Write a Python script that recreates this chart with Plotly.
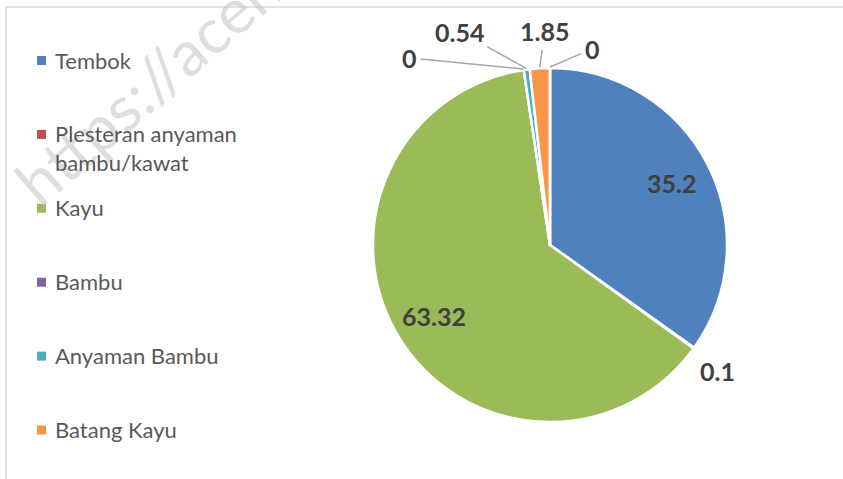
import math
import plotly.graph_objects as go

categories = ["Tembok", "Plesteran anyaman<br>bambu/kawat", "Kayu", "Bambu",
              "Anyaman Bambu", "Batang Kayu", "Lainnya"]
values = [35.2, 0.1, 63.32, 0, 0.54, 1.85, 0]
value_text = ["35.2", "0.1", "63.32", "0", "0.54", "1.85", "0"]
colors = ["#4F81BD", "#C0504D", "#9BBB59", "#8064A2", "#4BACC6", "#F79646", "#2C4D75"]

W, H = 843, 479
FONT = "Lato"
CX, CY, R = 550, 245, 177

# label placement style: (mode, radial factor / pixel offsets)
label_style = [
    ("inside", 0.77), ("plain", (24, 23)), ("inside", 0.77),
    ("arrow", (-114, -11)), ("arrow", (-67, -37)), ("arrow", (5, -36)), ("arrow", (42, -18)),
]

fig = go.Figure()
fig.add_trace(go.Pie(
    labels=categories, values=values,
    textinfo="none",
    sort=False, direction="clockwise", rotation=0,
    marker=dict(colors=colors, line=dict(color="white", width=2.5)),
    domain=dict(x=[(CX - R) / W, (CX + R) / W],
                y=[1 - (CY + R) / H, 1 - (CY - R) / H]),
    automargin=False, showlegend=False, hoverinfo="label+value",
))

shapes = []
annotations = []

# watermark
annotations.append(dict(text="https://aceh.bps.go.id", xref="paper", yref="paper",
                        x=245 / W, y=1 - (-2) / H, xanchor="center", yanchor="middle",
                        textangle=-41, showarrow=False,
                        font=dict(family=FONT, size=63, color="rgba(200,200,200,0.6)")))

# data labels placed from the slice angles
total = sum(values)
cum = 0.0
lab_font = dict(family=FONT, size=25, color="#404040", weight="bold")
for v, txt, (mode, prm) in zip(values, value_text, label_style):
    mid = (cum + v / 2) / total * 2 * math.pi
    cum += v
    s, c = math.sin(mid), math.cos(mid)
    if mode == "inside":
        px, py = CX + prm * R * s, CY - prm * R * c
        annotations.append(dict(text=txt, xref="paper", yref="paper",
                                x=px / W, y=1 - py / H, showarrow=False,
                                xanchor="center", yanchor="middle", font=lab_font))
    elif mode == "plain":
        px, py = CX + R * s, CY - R * c
        annotations.append(dict(text=txt, xref="paper", yref="paper",
                                x=(px + prm[0]) / W, y=1 - (py + prm[1]) / H,
                                showarrow=False, xanchor="center", yanchor="middle",
                                font=lab_font))
    else:
        px, py = CX + (R + 1) * s, CY - (R + 1) * c
        annotations.append(dict(text=txt, xref="paper", yref="paper",
                                x=px / W, y=1 - py / H, showarrow=True,
                                ax=prm[0], ay=prm[1], arrowhead=0, arrowwidth=1.5,
                                arrowcolor="#A6A6A6", standoff=0, startstandoff=2,
                                font=lab_font))

# chart border
shapes.append(dict(type="rect", xref="paper", yref="paper",
                   x0=6 / W, x1=1.2, y0=-0.2, y1=1 - 7 / H,
                   line=dict(color="#D9D9D9", width=1.5), fillcolor="rgba(0,0,0,0)",
                   layer="below"))

# custom legend (items below the chart edge are cut off, as in the original)
leg_x = 41.5
leg_top = 60.5
leg_gap = 73.9
for i, (name, col) in enumerate(zip(categories, colors)):
    yc = leg_top + i * leg_gap
    if yc > H:
        continue
    shapes.append(dict(type="rect", xref="paper", yref="paper",
                       x0=(leg_x - 4.5) / W, x1=(leg_x + 4.5) / W,
                       y0=1 - (yc + 4.5) / H, y1=1 - (yc - 4.5) / H,
                       fillcolor=col, line=dict(width=0)))
    annotations.append(dict(text=name, xref="paper", yref="paper",
                            x=(leg_x + 11) / W, y=1 - (yc - 16) / H,
                            xanchor="left", yanchor="top", align="left",
                            showarrow=False,
                            font=dict(family=FONT, size=22, color="#595959")))

fig.update_layout(
    width=W, height=H,
    margin=dict(l=0, r=0, t=0, b=0),
    paper_bgcolor="white", plot_bgcolor="white",
    shapes=shapes, annotations=annotations,
)
fig.write_html("out.html", config={"displayModeBar": False},
               post_script="document.body.style.margin='0';")
